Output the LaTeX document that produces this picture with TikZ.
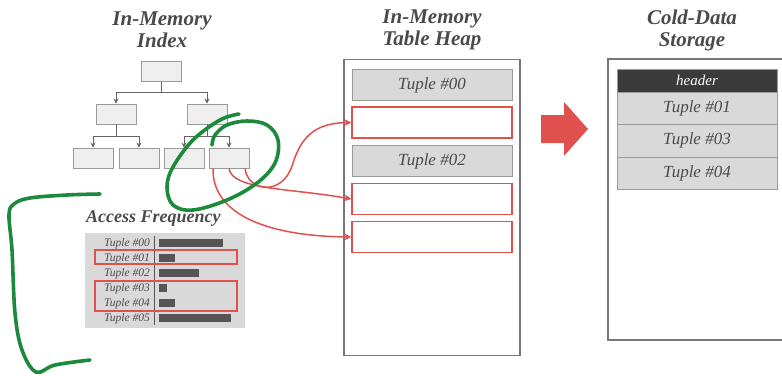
\documentclass[tikz,border=0pt]{standalone}
\usepackage{fontspec}
\setmainfont{Liberation Serif}
\usetikzlibrary{arrows.meta}
\definecolor{ink}{HTML}{4A4A4A}
\definecolor{boxfill}{HTML}{EFEFEF}
\definecolor{boxline}{HTML}{9A9A9A}
\definecolor{rowfill}{HTML}{D9D9D9}
\definecolor{redline}{HTML}{E0504C}
\definecolor{barcol}{HTML}{555555}
\definecolor{headcol}{HTML}{3A3A3A}
\definecolor{pen}{HTML}{1C8A3C}
\tikzset{
  title/.style={text=ink, font=\fontsize{21}{22}\selectfont\bfseries\itshape, align=center},
  treebox/.style={draw=boxline, fill=boxfill, line width=0.9pt, minimum width=40pt, minimum height=20pt, inner sep=0pt},
  treeline/.style={draw=ink!85, line width=0.8pt},
  treearrow/.style={treeline, -{Stealth[length=5pt,width=5pt]}},
  tuplebox/.style={draw=boxline, fill=rowfill, line width=1pt, minimum width=160pt, minimum height=31pt, inner sep=0pt,
    text=ink, font=\fontsize{17}{17}\selectfont\itshape},
  emptybox/.style={draw=redline, fill=white, line width=1.6pt, minimum width=160pt, minimum height=31pt, inner sep=0pt},
  coldrow/.style={draw=boxline, fill=rowfill, line width=1pt, minimum width=160pt, minimum height=32.5pt, inner sep=0pt,
    text=ink, font=\fontsize{17}{17}\selectfont\itshape},
  rowlabel/.style={anchor=base east, inner sep=0pt, text=ink, font=\fontsize{11.5}{11.5}\selectfont\itshape},
  link/.style={draw=redline, line width=1.5pt, -{Stealth[length=7pt,width=7pt]}},
  scribble/.style={draw=pen, line width=3.6pt, line cap=round, line join=round},
}
\begin{document}
\begin{tikzpicture}[x=1pt, y=-1pt]
\path[use as bounding box] (0,0) rectangle (782,375);
\clip (0,0) rectangle (782,375);

% column headings
\node[title] (tIndex) at (162,30) {In-Memory\\Index};
\node[title] (tHeap)  at (432,30) {In-Memory\\Table Heap};
\node[title] (tCold)  at (692,30) {Cold-Data\\Storage};

% index tree
\node[treebox] (root) at (161,71.5) {};
\node[treebox] (b1) at (116,114) {};
\node[treebox] (b2) at (207,114) {};
\node[treebox] (l1) at (93,158) {};
\node[treebox] (l2) at (139,158) {};
\node[treebox] (l3) at (184,158) {};
\node[treebox] (l4) at (229,158) {};
\coordinate (j0) at (161,92);
\coordinate (j1) at (116,136);
\coordinate (j2) at (207,136);
\draw[treeline] (root.south) -- (j0);
\draw[treearrow] (j0) -| (b1.north);
\draw[treearrow] (j0) -| (b2.north);
\draw[treeline] (b1.south) -- (j1);
\draw[treearrow] (j1) -| (l1.north);
\draw[treearrow] (j1) -| (l2.north);
\draw[treeline] (b2.south) -- (j2);
\draw[treearrow] (j2) -| (l3.north);
\draw[treearrow] (j2) -| (l4.north);

% access frequency table
\node[anchor=west, inner sep=0pt, text=ink, font=\fontsize{18}{18}\selectfont\bfseries\itshape] (tFreq) at (86,218) {Access Frequency};
\fill[rowfill] (85,233) rectangle (245,328);
\draw[barcol, line width=0.8pt] (154,236) -- (154,325);
\node[rowlabel] (f0) at (150,246) {Tuple \#00};
\node[rowlabel] (f1) at (150,261) {Tuple \#01};
\node[rowlabel] (f2) at (150,276) {Tuple \#02};
\node[rowlabel] (f3) at (150,291) {Tuple \#03};
\node[rowlabel] (f4) at (150,306) {Tuple \#04};
\node[rowlabel] (f5) at (150,321) {Tuple \#05};
\fill[barcol] (159,238.5) rectangle (223,246.5);
\fill[barcol] (159,253.5) rectangle (175,261.5);
\fill[barcol] (159,268.5) rectangle (199,276.5);
\fill[barcol] (159,283.5) rectangle (167,291.5);
\fill[barcol] (159,298.5) rectangle (175,306.5);
\fill[barcol] (159,313.5) rectangle (231,321.5);
\draw[redline, line width=1.2pt] (95,250) rectangle (237,264);
\draw[redline, line width=1.2pt] (95,281) rectangle (237,311);

% in-memory table heap
\node[draw=ink!75, line width=1.5pt, minimum width=176pt, minimum height=296pt, inner sep=0pt] (heap) at (432,207.5) {};
\node[tuplebox] (h0) at (432,85) {Tuple \#00};
\node[emptybox] (h1) at (432,122.5) {};
\node[tuplebox] (h2) at (432,161) {Tuple \#02};
\node[emptybox] (h3) at (432,199) {};
\node[emptybox] (h4) at (432,237) {};

% pointers from the index leaf to the emptied slots
\draw[link] ([xshift=16pt]l4.south) .. controls (248,192) and (282,196) .. (292,166)
  .. controls (300,140) and (312,123) .. (h1.west);
\draw[link] (l4.south) .. controls (232,190) and (290,188) .. (h3.west);
\draw[link] ([xshift=-16pt]l4.south) .. controls (212,212) and (262,236) .. (h4.west);

% eviction arrow
\fill[redline] (541,115) -- (564,115) -- (564,102) -- (588,129) -- (564,156) -- (564,143) -- (541,143) -- cycle;

% cold-data storage block
\node[draw=ink!75, line width=1.5pt, minimum width=190pt, minimum height=281pt, inner sep=0pt] (cold) at (703,199.5) {};
\node[draw=boxline, fill=headcol, line width=1pt, minimum width=160pt, minimum height=23pt, inner sep=0pt,
  text=white, font=\fontsize{15}{15}\selectfont\itshape] (hdr) at (697,80.5) {header};
\node[coldrow] (c1) at (697,108.25) {Tuple \#01};
\node[coldrow] (c3) at (697,140.75) {Tuple \#03};
\node[coldrow] (c4) at (697,173.25) {Tuple \#04};

% hand-drawn pen marks
\draw[scribble] plot[smooth, tension=0.6] coordinates {(239,114) (220,120) (193,140) (173,167) (167,187) (173,205) (193,210) (227,200) (257,183) (275,163) (278,140) (267,125) (247,121) (227,125) (215,135) (212,145)};
\draw[scribble] plot[smooth, tension=0.6] coordinates {(100,194) (67,195) (30,198) (14,204) (9,215) (12,250) (15,313) (22,350) (36,372) (55,365) (90,360)};
\end{tikzpicture}
\end{document}
